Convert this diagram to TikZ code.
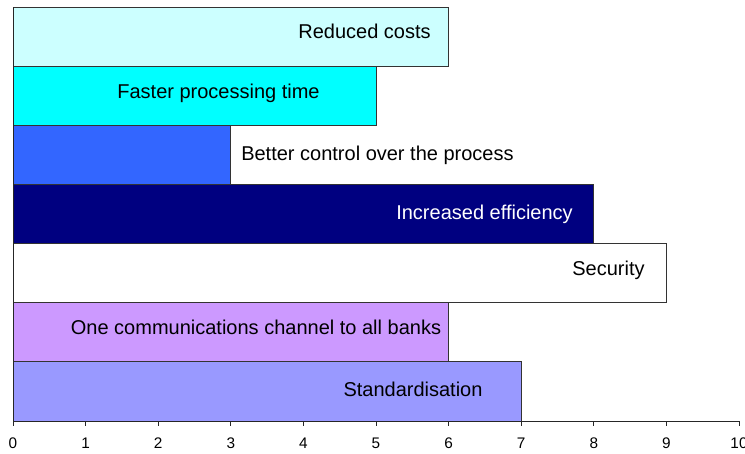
\documentclass[tikz,border=0pt]{standalone}
\usepackage{fontspec}
\setmainfont{Liberation Sans}
\begin{document}
\begin{tikzpicture}[x=0.75pt,y=-0.75pt,
  bar/.style={draw=black!80, line width=0.75pt},
  lbl/.style={font=\fontsize{15}{18}\selectfont, inner sep=0pt, anchor=base},
  ticklbl/.style={font=\fontsize{11.5}{14}\selectfont, inner sep=0pt, anchor=base},
  axisline/.style={draw=black!85, line width=0.75pt}]
\useasboundingbox[fill=white] (0,0) rectangle (745,453);
\definecolor{cA}{HTML}{CCFFFF}
\definecolor{cB}{HTML}{00FFFF}
\definecolor{cC}{HTML}{3366FF}
\definecolor{cD}{HTML}{000080}
\definecolor{cE}{HTML}{FFFFFF}
\definecolor{cF}{HTML}{CC99FF}
\definecolor{cG}{HTML}{9999FF}
\def\xo{13}\def\u{72.6}
% bars
\draw[bar, fill=cA] (\xo,7.5) rectangle ({\xo+6*\u},66.4);
\draw[bar, fill=cB] (\xo,66.4) rectangle ({\xo+5*\u},125.4);
\draw[bar, fill=cC] (\xo,125.4) rectangle ({\xo+3*\u},184.3);
\draw[bar, fill=cD] (\xo,184.3) rectangle ({\xo+8*\u},243.2);
\draw[bar, fill=cE] (\xo,243.2) rectangle ({\xo+9*\u},302.1);
\draw[bar, fill=cF] (\xo,302.1) rectangle ({\xo+6*\u},361.1);
\draw[bar, fill=cG] (\xo,361.1) rectangle ({\xo+7*\u},421);
% axes
\draw[axisline] (\xo,7.5) -- (\xo,421);
\draw[axisline] (\xo,421) -- ({\xo+10*\u},421);
\foreach \i in {0,...,10} {
  \draw[axisline] ({\xo+\i*\u},421) -- ({\xo+\i*\u},426);
  \node[ticklbl] (t\i) at ({\xo+\i*\u},448) {\i};
}
% labels
\node[lbl] (l1) at (364.5,39) {Reduced costs};
\node[lbl] (l2) at (218.5,98.5) {Faster processing time};
\node[lbl, anchor=base west] (l3) at (241,160) {Better control over the process};
\node[lbl, text=white] (l4) at (484.5,219) {Increased efficiency};
\node[lbl] (l5) at (608.5,275.5) {Security};
\node[lbl] (l6) at (256,334) {One communications channel to all banks};
\node[lbl] (l7) at (413,396) {Standardisation};
\end{tikzpicture}
\end{document}
